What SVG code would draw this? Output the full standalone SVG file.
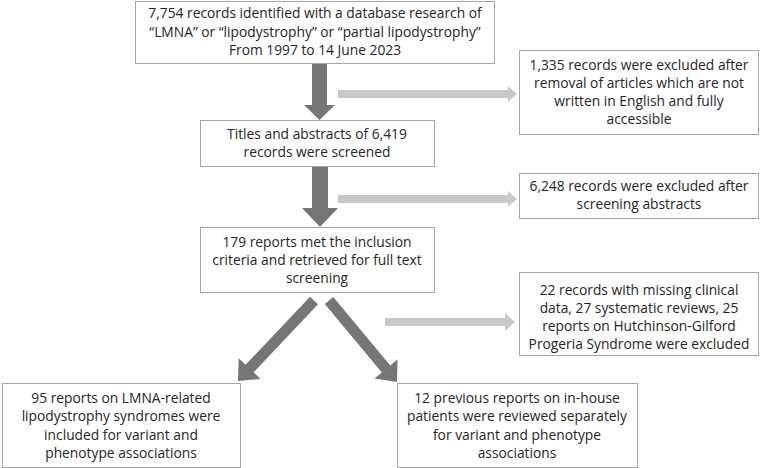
<svg xmlns="http://www.w3.org/2000/svg" width="760" height="468" viewBox="0 0 760 468">
<style>
.box{fill:#fff;stroke:#a6a6a6;stroke-width:1}
.t{font-family:"Open Sans","Noto Sans",sans-serif;font-size:13.8px;fill:#262626;text-anchor:middle}
.dark{fill:#767676}
.light{fill:#c8c8c8}
</style>
<rect width="760" height="468" fill="#fff"/>
<g id="connectors">
<polygon class="dark" points="312,64 327,64 327,105 335,105 319.5,120 304,105 312,105"/>
<polygon class="dark" points="312,166 328,166 328,208 338,208 320,227 302,208 312,208"/>
<polygon class="light" points="338,90 508,90 508,86 517,94 508,102 508,98 338,98"/>
<polygon class="light" points="338,195 508,195 508,191 517,199 508,207 508,203 338,203"/>
<polygon class="light" points="385,318 505,318 505,313 515,322 505,331 505,326 385,326"/>
<polygon class="dark" transform="translate(314,300.5) rotate(133.4)" points="0,-5.5 93.7,-5.5 93.7,-15 110.7,0 93.7,15 93.7,5.5 0,5.5"/>
<polygon class="dark" transform="translate(329,300.5) rotate(50.2)" points="0,-5.5 89.1,-5.5 89.1,-15 106.1,0 89.1,15 89.1,5.5 0,5.5"/>
</g>
<g id="n1">
<rect class="box" x="135.5" y="1.5" width="359" height="62"/>
<text class="t" x="315" y="18">7,754 records identified with a database research of</text>
<text class="t" x="315" y="37">“LMNA” or “lipodystrophy” or “partial lipodystrophy”</text>
<text class="t" x="315" y="55">From 1997 to 14 June 2023</text>
</g>
<g id="n2">
<rect class="box" x="519.5" y="50.5" width="239" height="84"/>
<text class="t" x="639" y="70">1,335 records were excluded after</text>
<text class="t" x="639" y="88">removal of articles which are not</text>
<text class="t" x="639" y="106">written in English and fully</text>
<text class="t" x="639" y="124">accessible</text>
</g>
<g id="n3">
<rect class="box" x="200.5" y="120.5" width="234" height="46"/>
<text class="t" x="317" y="139">Titles and abstracts of 6,419</text>
<text class="t" x="317" y="157">records were screened</text>
</g>
<g id="n4">
<rect class="box" x="519.5" y="173.5" width="239" height="45"/>
<text class="t" x="639" y="191">6,248 records were excluded after</text>
<text class="t" x="639" y="209">screening abstracts</text>
</g>
<g id="n5">
<rect class="box" x="200.5" y="227.5" width="234" height="65"/>
<text class="t" x="317" y="247">179 reports met the inclusion</text>
<text class="t" x="317" y="265">criteria and retrieved for full text</text>
<text class="t" x="317" y="283">screening</text>
</g>
<g id="n6">
<rect class="box" x="519.5" y="272.5" width="239" height="83"/>
<text class="t" x="639" y="295">22 records with missing clinical</text>
<text class="t" x="639" y="313">data, 27 systematic reviews, 25</text>
<text class="t" x="639" y="331">reports on Hutchinson-Gilford</text>
<text class="t" x="639" y="349">Progeria Syndrome were excluded</text>
</g>
<g id="n7">
<rect class="box" x="2.5" y="383.5" width="238" height="84"/>
<text class="t" x="121" y="403">95 reports on LMNA-related</text>
<text class="t" x="121" y="421">lipodystrophy syndromes were</text>
<text class="t" x="121" y="440">included for variant and</text>
<text class="t" x="121" y="458">phenotype associations</text>
</g>
<g id="n8">
<rect class="box" x="397.5" y="383.5" width="240" height="84"/>
<text class="t" x="517" y="403">12 previous reports on in-house</text>
<text class="t" x="517" y="421">patients were reviewed separately</text>
<text class="t" x="517" y="440">for variant and phenotype</text>
<text class="t" x="517" y="458">associations</text>
</g>
</svg>
